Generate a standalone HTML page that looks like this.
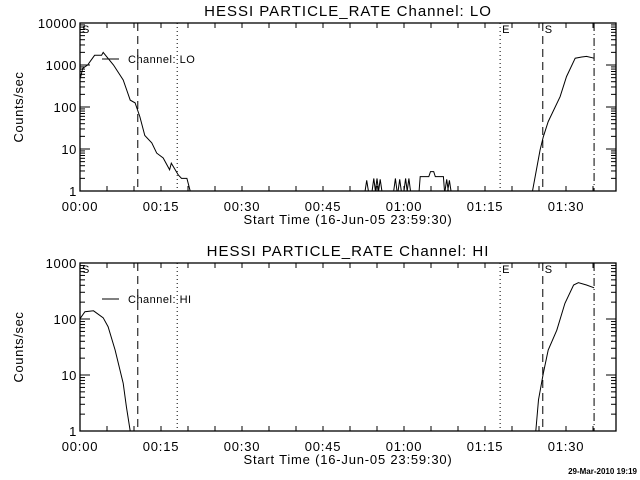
<!DOCTYPE html>
<html><head><meta charset="utf-8"><style>
html,body{margin:0;padding:0;background:#fff;}
svg{display:block;font-family:"Liberation Sans",sans-serif;}
</style></head><body>
<svg id="c" width="640" height="480" viewBox="0 0 640 480"></svg>
<script>
// ---- data ----
const tickMinutes = [0, 15, 30, 45, 60, 75, 90];
const tickLabels = ["00:00", "00:15", "00:30", "00:45", "01:00", "01:15", "01:30"];
const markerTimes = [10.7, 18.0, 77.8, 85.7, 95.2];
const markerStyles = ["dash", "dot", "dot", "dash", "dashdot"];
const markerLetters = ["", "", "E", "S", ""];
const loTimes = [0.06,0.5,1.4,2.7,4.0,4.3,6.2,8.0,9.3,10.2,11.1,12.0,13.3,14.2,15.4,16.6,16.9,18.2,18.8,19.8,20.4];
const loValues = [480,830,1000,1700,1700,2000,1000,440,146,125,58,21,14,8,6.1,3.2,4.6,2.4,2.0,2.0,1];
const loLateTimes = [83.8,85.2,85.8,86.7,88.9,90.1,91.7,92.9,93.8,95.2];
const loLateValues = [1,9.5,19.5,45,176,530,1450,1550,1600,1450];
const loSpikeTimes = [53.1,54.4,55.0,55.6,58.4,59.2,60.3,60.9,67.9,68.4];
const loSpikeValues = [1.8,2,2,1.9,2,1.9,2,2,1.9,1.8];
const loBoxTimes = [62.8,63.0,64.6,64.9,65.5,65.8,67.3,67.5];
const loBoxValues = [1,2.2,2.2,2.9,2.9,2.2,2.2,1];
const hiTimes = [0.06,0.9,2.5,4.3,5.2,6.5,8.0,8.6,9.3];
const hiValues = [103,135,140,105,73,28,7.1,2.7,1];
const hiLateTimes = [84.4,84.9,85.8,86.7,88.3,89.8,91.4,92.3,93.8,95.2];
const hiLateValues = [1,3.6,10.7,28,63,190,405,445,405,360];

const NS = "http://www.w3.org/2000/svg";
const svg = document.getElementById('c');
function mk(tag, attrs, parent) {
  const e = document.createElementNS(NS, tag);
  for (const k in attrs) e.setAttribute(k, attrs[k]);
  (parent || svg).appendChild(e);
  return e;
}
const X0 = 80, X1 = 616, PXMIN = 5.4;
function xs(t) { return X0 + t * PXMIN; }

function panel(cfg) {
  const g = mk('g', {});
  
  
  const top = cfg.top, bot = cfg.bot, dec = cfg.decades;
  const per = (bot - top) / dec;
  const ys = v => bot - Math.log10(Math.max(v, 1)) * per;
  const ti = mk('text', {x: 348, y: top - 7, 'text-anchor': 'middle', 'font-size': 15, 'letter-spacing': 1}, g);
  ti.textContent = cfg.title;
  
  
  const fr = mk('rect', {x: X0, y: top, width: X1 - X0, height: bot - top, fill: 'none', stroke: '#000', 'stroke-width': 1.3}, g);
  
  
  for (let m = 0; m <= 99; m += 5) {
    const x = xs(m);
    mk('line', {x1: x, x2: x, y1: bot, y2: bot - 5, stroke: '#000'}, g);
    mk('line', {x1: x, x2: x, y1: top, y2: top + 5, stroke: '#000'}, g);
  }
  tickMinutes.forEach((m, i) => {
    const t = mk('text', {x: xs(m), y: bot + 20, 'text-anchor': 'middle', 'font-size': 13, 'letter-spacing': 0.8}, g);
    t.textContent = tickLabels[i];
    
    
  });
  const xt = mk('text', {x: 348, y: bot + 33, 'text-anchor': 'middle', 'font-size': 13, 'letter-spacing': 0.8}, g);
  xt.textContent = 'Start Time (16-Jun-05 23:59:30)';
  
  
  for (let d = 0; d <= dec; d++) {
    const y = ys(Math.pow(10, d));
    mk('line', {x1: X0, x2: X0 + 10, y1: y, y2: y, stroke: '#000'}, g);
    mk('line', {x1: X1, x2: X1 - 10, y1: y, y2: y, stroke: '#000'}, g);
    const t = mk('text', {x: X0 - 3, y: y + 5, 'text-anchor': 'end', 'font-size': 13, 'letter-spacing': 0.6}, g);
    t.textContent = String(Math.pow(10, d));
    
    
    if (d < dec) for (let k = 2; k <= 9; k++) {
      const yy = ys(k * Math.pow(10, d));
      mk('line', {x1: X0, x2: X0 + 5, y1: yy, y2: yy, stroke: '#000'}, g);
      mk('line', {x1: X1, x2: X1 - 5, y1: yy, y2: yy, stroke: '#000'}, g);
    }
  }
  const yt = mk('text', {x: 0, y: 0, 'text-anchor': 'middle', 'font-size': 13, 'letter-spacing': 0.6, transform: `translate(23 ${(top + bot) / 2}) rotate(-90)`}, g);
  yt.textContent = 'Counts/sec';
  
  
  const dashes = {dash: '8,5', dot: '1,3', dashdot: '8,3,1,3'};
  markerTimes.forEach((t, i) => {
    const l = mk('line', {x1: xs(t), x2: xs(t), y1: top, y2: bot, stroke: '#000', 'stroke-dasharray': dashes[markerStyles[i]]}, g);
    
    
    if (markerLetters[i]) {
      const s = mk('text', {x: xs(t) + 2, y: top + 10, 'font-size': 11}, g);
      s.textContent = markerLetters[i];
      
      
    }
  });
  const sl = mk('text', {x: X0 + 2, y: top + 10, 'font-size': 11}, g);
  sl.textContent = 'S';
  
  
  cfg.series.forEach(s => {
    if (s.spikes) {
      s.spikes.forEach((t, i) => {
        const p = [[t - 0.3, 1], [t, s.vals[i]], [t + 0.3, 1]].map(q => xs(q[0]).toFixed(1) + ',' + ys(q[1]).toFixed(1)).join(' ');
        const pl = mk('polyline', {points: p, fill: 'none', stroke: '#000'}, g);
        
        
      });
      return;
    }
    const pts = s.t.map((t, i) => xs(t).toFixed(1) + ',' + ys(s.v[i]).toFixed(1)).join(' ');
    const pl = mk('polyline', {points: pts, fill: 'none', stroke: '#000'}, g);
    
    
  });
  const lg = mk('g', {}, g);
  
  
  mk('line', {x1: 102, x2: 119, y1: cfg.legY, y2: cfg.legY, stroke: '#000'}, lg);
  const lt = mk('text', {x: 128, y: cfg.legY + 4, 'font-size': 11, 'letter-spacing': 0.5}, lg);
  lt.textContent = cfg.legend;
}

panel({name: 'panel-lo', title: 'HESSI PARTICLE_RATE Channel: LO', top: 23, bot: 191, decades: 4, legY: 59,
  legend: 'Channel: LO', lineName: 'lo-rate-line',
  series: [{t: loTimes, v: loValues}, {t: loLateTimes, v: loLateValues}, {t: loBoxTimes, v: loBoxValues},
           {spikes: loSpikeTimes, vals: loSpikeValues}]});
panel({name: 'panel-hi', title: 'HESSI PARTICLE_RATE Channel: HI', top: 263, bot: 431, decades: 3, legY: 299,
  legend: 'Channel: HI', lineName: 'hi-rate-line',
  series: [{t: hiTimes, v: hiValues}, {t: hiLateTimes, v: hiLateValues}]});

const st = mk('text', {x: 637, y: 474, 'text-anchor': 'end', 'font-size': 8, 'font-weight': 'bold'});
st.textContent = '29-Mar-2010 19:19';


</script>
</body></html>
